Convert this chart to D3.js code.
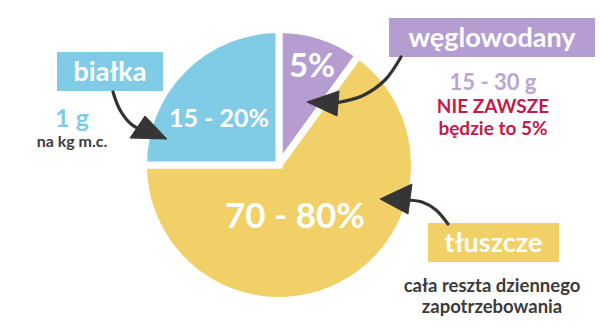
<!DOCTYPE html>
<html><head><meta charset="utf-8">
<script src="https://cdn.jsdelivr.net/npm/d3@7/dist/d3.min.js"></script>
<style>html,body{margin:0;padding:0;background:#fff;}svg{display:block;font-family:Lato,"Open Sans",sans-serif;font-weight:700;}</style>
</head><body>
<svg id="c" width="600" height="330"></svg>
<script>
// data
const categories = ["węglowodany", "tłuszcze", "białka"];
const shares = [10, 65, 25];            // angular share as drawn
const sliceLabels = ["5%", "70 - 80%", "15 - 20%"];
const colors = ["#b59dd1", "#f1d067", "#80cce6"];
const noteLines = {
  "białka": [["1 g", "#80cce6", 25], ["na kg m.c.", "#3b3b3b", 16]],
  "węglowodany": [["15 - 30 g", "#b8a6d4", 22], ["NIE ZAWSZE", "#c51a4a", 19], ["będzie to 5%", "#c51a4a", 19]],
  "tłuszcze": [["cała reszta dziennego", "#3b3b3b", 18.5], ["zapotrzebowania", "#3b3b3b", 18.5]]
};

const svg = d3.select("#c");
const cx = 279, cy = 165, R = 132, gap = 7;
const g = svg.append("g").attr("transform", `translate(${cx},${cy})`);
const pie = d3.pie().sort(null).startAngle(0).endAngle(2 * Math.PI);
const arcs = pie(shares);
const arc = d3.arc().innerRadius(0).outerRadius(R + gap / 2);
g.selectAll("path.s").data(arcs).join("path").attr("class", "s")
  .attr("d", arc).attr("fill", (d, i) => colors[i])
  .attr("stroke", "#fff").attr("stroke-width", gap).attr("stroke-linejoin", "miter");

// slice labels
const labelPos = [[33, -88, 33], [16, 63, 35], [-60, -38, 25]];
g.selectAll("text.l").data(arcs).join("text").attr("class", "l")
  .attr("x", (d, i) => labelPos[i][0]).attr("y", (d, i) => labelPos[i][1])
  .attr("text-anchor", "middle").attr("fill", "#fff")
  .attr("font-size", (d, i) => labelPos[i][2])
  .text((d, i) => sliceLabels[i]);

// category boxes
const boxes = {
  "białka": {x: 57, y: 52, w: 106, h: 39, fs: 27, color: colors[2], noteX: 72, noteY: [127, 147]},
  "węglowodany": {x: 389, y: 18, w: 206, h: 39, fs: 27, color: colors[0], noteX: 493, noteY: [90, 113, 135]},
  "tłuszcze": {x: 428, y: 223, w: 131, h: 39, fs: 27, color: colors[1], noteX: 492, noteY: [292, 313]}
};
categories.forEach(c => {
  const b = boxes[c];
  svg.append("rect").attr("x", b.x).attr("y", b.y).attr("width", b.w).attr("height", b.h).attr("fill", b.color);
  svg.append("text").attr("x", b.x + b.w / 2).attr("y", b.y + b.h / 2 + b.fs * 0.36)
    .attr("text-anchor", "middle").attr("fill", "#fff").attr("font-size", b.fs).text(c);
  noteLines[c].forEach((ln, k) => {
    svg.append("text").attr("x", b.noteX).attr("y", b.noteY[k]).attr("text-anchor", "middle")
      .attr("fill", ln[1]).attr("font-size", ln[2]).text(ln[0]);
  });
});

// arrows
const arrows = [
  {shaft: [[113, 92], [120, 110], [131, 124], [146, 132]], head: [[167, 139], [145, 116], [130, 138]]},
  {shaft: [[401, 57], [385, 80], [362, 96], [335, 103]], head: [[307, 102], [339, 91], [337, 116]]},
  {shaft: [[448, 224], [436, 210], [422, 202], [405, 200]], head: [[380, 199], [412, 184], [408, 214]]}
];
const line = d3.line().curve(d3.curveCatmullRom);
arrows.forEach(a => {
  svg.append("path").attr("d", line(a.shaft)).attr("fill", "none").attr("stroke", "#333").attr("stroke-width", 3.2).attr("stroke-linecap", "round");
  svg.append("path").attr("d", "M" + a.head.join("L") + "Z").attr("fill", "#353535").attr("stroke", "#353535").attr("stroke-width", 1).attr("stroke-linejoin", "round");
});
</script>
</body></html>
